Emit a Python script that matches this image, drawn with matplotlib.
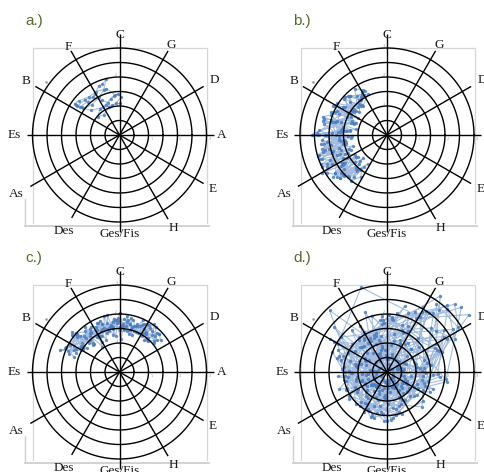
import numpy as np
import matplotlib
matplotlib.use("Agg")
import matplotlib.pyplot as plt

# circle of fifths labels, clockwise from the top
keys = ['C', 'G', 'D', 'A', 'E', 'H', 'Ges/Fis', 'Des', 'As', 'Es', 'B', 'F']
key_angles = [0, 30, 60, 90, 120, 150, 180, 210, 240, 270, 300, 330]
rings = [0.5, 1.0, 1.5, 2.0, 2.5, 3.0]
tick_values = [1, 2, 3]
panel_names = ['a.)', 'b.)', 'c.)', 'd.)']

# a.) sparse path between F and C (x, y in ring units)
a_x = [-1.50, -1.35, -1.10, -0.85, -0.72, -0.60, -0.46, -0.55, -0.70, -0.95,
       -1.25, -1.45, -1.20, -0.90, -0.62, -0.40, -0.20, -0.05, 0.05, -0.12,
       -0.35, -0.55, -0.75, -0.68, -0.48, -0.30, -0.15, -0.45, -0.80, -1.05,
       -1.40, -1.55, -1.30, -0.98, -0.58, -0.25, 0.02]
a_y = [1.05, 0.98, 1.15, 1.40, 1.68, 1.75, 1.92, 1.55, 1.30, 1.05,
       0.92, 1.00, 1.22, 1.30, 1.20, 1.12, 1.35, 1.42, 1.30, 1.10,
       0.95, 0.70, 0.62, 0.88, 1.05, 1.25, 1.38, 1.60, 1.50, 1.32,
       1.18, 1.08, 0.95, 0.85, 0.95, 1.02, 1.10]

# b.) crescent between Des and F (angle clockwise from C in deg, radius)
b_theta = [330, 322, 315, 305, 298, 290, 283, 276, 270, 268, 262, 255, 250, 245, 240, 236, 230, 224, 218, 214,
           220, 228, 235, 242, 248, 253, 258, 263, 268, 272, 278, 284, 292, 300, 308, 316, 324, 332, 328, 318,
           310, 300, 294, 286, 280, 274, 270, 266, 260, 254, 248, 242, 238, 232, 226, 222, 216, 212, 218, 226,
           234, 240, 246, 252, 258, 264, 270, 276, 282, 288, 296, 304, 312, 320, 326, 334, 325, 314, 302, 292,
           284, 276, 270, 262, 256, 250, 244, 238, 232, 228, 224, 230, 238, 246, 254, 262, 270, 278, 286, 294,
           300, 285, 270, 255, 240, 228, 218, 232, 246, 260, 274, 288, 302, 318, 330, 312, 296, 280, 264, 250,
           236, 224, 216, 226, 238, 252, 266, 280, 294, 308, 322, 335, 320, 304, 290, 276, 262, 248, 234, 222,
           230, 244, 258, 272, 286, 300, 316, 328, 310, 292, 274, 256, 242, 228, 220, 236, 252, 268, 284, 270]
b_r = [1.70, 1.55, 1.90, 1.40, 2.10, 1.25, 1.95, 1.60, 2.55, 1.35, 2.20, 1.70, 2.45, 1.50, 2.60, 1.90, 2.25, 1.40, 1.85, 1.20,
       1.60, 2.05, 1.30, 2.35, 1.75, 2.50, 1.45, 2.10, 1.20, 1.90, 1.55, 2.25, 1.30, 2.05, 1.45, 1.85, 1.50, 1.75, 1.60, 1.35,
       1.95, 1.15, 1.80, 2.30, 1.10, 1.70, 2.40, 1.25, 1.95, 2.45, 1.35, 2.15, 1.80, 2.35, 1.15, 1.95, 1.50, 1.70, 2.00, 1.30,
       2.20, 1.55, 2.50, 1.25, 2.30, 1.65, 2.10, 1.40, 2.25, 1.20, 1.90, 1.45, 1.70, 1.35, 1.60, 1.70, 1.95, 1.40, 2.05, 1.15,
       1.85, 1.30, 2.35, 1.60, 2.05, 1.40, 2.50, 1.85, 1.25, 2.20, 1.55, 2.05, 1.30, 1.60, 1.95, 1.45, 2.15, 1.30, 1.80, 1.50,
       1.55, 2.00, 1.75, 2.30, 1.60, 2.20, 1.50, 1.90, 2.15, 1.45, 2.35, 1.30, 1.80, 1.45, 1.60, 1.95, 1.40, 2.20, 1.50, 2.40,
       1.75, 1.95, 1.35, 2.05, 2.45, 1.65, 2.25, 1.55, 1.95, 1.35, 1.70, 1.55, 1.30, 1.75, 2.05, 1.45, 2.30, 1.85, 2.20, 1.60,
       1.45, 2.30, 1.55, 2.40, 1.65, 1.45, 1.85, 1.65, 1.25, 2.10, 1.60, 2.20, 1.70, 2.00, 1.55, 1.85, 2.00, 1.65, 1.85, 2.60]

# c.) band above the centre from B to D
c_theta = [-72, -65, -58, -50, -44, -38, -30, -24, -18, -12, -6, 0, 6, 12, 18, 24, 30, 36, 42, 48,
           44, 38, 32, 26, 20, 14, 8, 2, -4, -10, -16, -22, -28, -34, -40, -46, -52, -60, -68, -62,
           -54, -48, -42, -36, -30, -25, -20, -14, -8, -3, 3, 9, 15, 21, 27, 33, 39, 45, 50, 40,
           30, 22, 15, 8, 0, -7, -14, -21, -28, -35, -42, -49, -56, -64, -70, -57, -45, -33, -20, -10,
           -2, 5, 12, 19, 26, 34, 42, 52, 46, 35, 24, 14, 4, -6, -16, -26, -37, -48, -58, -66,
           -60, -40, -20, 0, 20, 40, 30, 10, -10, -30, -50, -66, -45, -25, -5, 15, 35, 50, 25, 5,
           -15, -35, -55, -70, -48, -28, -8, 12, 32, 46, 38, 18, -2, -22, -42, -62, -52, -32, -12, 8]
c_r = [1.65, 2.05, 1.50, 2.15, 1.30, 1.95, 1.20, 1.85, 1.40, 2.00, 1.25, 2.05, 1.45, 1.90, 1.35, 1.95, 1.55, 2.05, 1.70, 1.60,
       1.85, 1.40, 1.90, 1.50, 1.75, 1.35, 1.95, 1.15, 1.80, 1.30, 2.00, 1.20, 1.75, 1.05, 1.85, 1.45, 2.10, 1.55, 1.90, 1.70,
       1.40, 1.95, 1.30, 1.65, 1.50, 1.85, 1.60, 1.75, 1.55, 1.70, 1.60, 1.80, 1.55, 1.70, 1.85, 1.60, 2.00, 1.75, 1.55, 1.45,
       1.70, 1.50, 1.85, 1.60, 1.45, 1.75, 1.55, 1.90, 1.40, 1.80, 1.35, 2.00, 1.60, 1.75, 2.20, 1.50, 1.65, 1.45, 1.75, 1.60,
       1.85, 1.55, 1.70, 1.50, 1.80, 1.65, 1.45, 1.80, 1.90, 1.60, 1.75, 1.50, 1.65, 1.85, 1.55, 1.40, 1.70, 1.85, 1.55, 1.65,
       1.80, 1.60, 1.75, 1.55, 1.70, 1.55, 1.90, 1.45, 1.65, 1.40, 1.90, 2.05, 1.75, 1.55, 1.80, 1.60, 1.85, 1.70, 1.50, 1.85,
       1.45, 1.70, 1.55, 1.85, 2.00, 1.65, 1.50, 1.70, 1.45, 1.90, 1.80, 1.65, 1.75, 1.60, 1.50, 1.95, 1.65, 1.85, 1.60, 1.75]

# d.) dense cloud around the centre with excursions towards G/D
d_theta = [12, 58, 103, 171, 224, 268, 317, 349, 27, 84, 139, 196, 251, 296, 338, 44, 92, 158, 207, 262,
           305, 356, 38, 77, 126, 183, 236, 281, 322, 8, 63, 118, 164, 213, 259, 300, 343, 31, 72, 133,
           188, 242, 287, 330, 18, 49, 97, 146, 201, 248, 292, 335, 22, 66, 112, 175, 219, 274, 313, 352,
           40, 88, 129, 180, 228, 265, 303, 346, 15, 54, 107, 152, 199, 245, 290, 326, 5, 47, 81, 124,
           168, 215, 257, 298, 341, 33, 70, 115, 161, 210, 254, 288, 333, 2, 52, 99, 143, 192, 238, 278,
           319, 357, 36, 61, 110, 155, 205, 250, 284, 327, 11, 57, 94, 137, 186, 232, 271, 309, 348, 25,
           68, 121, 166, 218, 261, 294, 339, 20, 45, 90, 135, 178, 226, 270, 315, 354, 29, 75, 117, 160,
           204, 247, 283, 324, 7, 42, 86, 131, 173, 221, 266, 307, 345, 35, 60, 102, 149, 194, 240, 276,
           77, 151, 233, 302, 19, 96, 188, 261, 340, 55, 128, 209, 287, 4, 83, 167, 244, 318, 37, 114,
           198, 276, 351, 63, 142, 221, 297, 14, 91, 175, 252, 329, 46, 123, 203, 280, 358, 71, 156, 236,
           311, 28, 107, 184, 263, 343, 59, 137, 216, 292, 9, 88, 170, 248, 323, 41, 119, 195, 273, 347,
           66, 145, 226, 305, 22, 100, 181, 257, 336, 51, 132, 212, 289, 1, 80, 162, 240, 314, 33, 111,
           192, 269, 345, 74, 153, 230, 308, 25, 104, 186, 259, 332, 48, 126, 206, 284, 355, 69, 148, 227,
           30, 45, 58, 36, 50, 64, 42, 28, 55, 70,
           300, 150, 320, 200, 340, 100, 355, 230, 10, 170, 25, 250, 285, 80, 265, 190, 310, 120, 330, 215,
           345, 60, 5, 240, 20, 135, 35, 275, 70, 185, 95, 300, 110, 220, 250, 15, 235, 160, 200, 290]
d_r = [1.10, 2.30, 1.45, 0.70, 1.55, 1.20, 2.90, 0.85, 1.60, 1.30, 0.55, 1.65, 0.90, 1.50, 1.05, 3.00, 1.75, 0.60, 1.45, 1.35,
       0.75, 1.80, 2.60, 1.40, 0.65, 1.70, 1.25, 1.10, 1.55, 0.50, 1.85, 1.20, 1.45, 0.80, 1.50, 1.95, 3.05, 2.20, 1.35, 0.95,
       1.40, 0.85, 1.35, 1.60, 1.70, 3.40, 2.05, 0.75, 1.25, 1.50, 1.05, 0.70, 1.45, 1.90, 1.10, 1.65, 0.60, 1.55, 1.25, 1.80,
       2.80, 1.20, 1.60, 1.70, 0.95, 1.45, 1.30, 1.05, 0.65, 2.45, 1.35, 0.80, 1.55, 1.20, 1.60, 1.40, 1.85, 1.15, 1.55, 0.70,
       1.50, 1.30, 1.45, 0.85, 1.35, 2.50, 1.00, 1.65, 0.55, 1.60, 1.10, 1.75, 1.30, 1.95, 1.40, 2.10, 0.90, 1.20, 1.55, 0.60,
       1.45, 1.70, 1.25, 2.35, 1.40, 0.95, 1.50, 0.70, 1.65, 1.20, 1.35, 2.70, 1.60, 1.15, 1.45, 0.65, 1.30, 1.55, 0.90, 1.75,
       1.95, 0.80, 1.30, 1.50, 0.75, 1.85, 1.25, 1.55, 2.15, 1.30, 1.70, 1.10, 0.60, 1.45, 1.20, 1.65, 2.55, 1.05, 1.40, 1.25,
       0.95, 1.55, 1.15, 1.35, 1.80, 1.60, 0.50, 1.25, 1.60, 1.35, 0.85, 2.00, 1.40, 3.20, 1.95, 1.25, 0.75, 1.45, 1.15, 1.50,
       0.40, 1.10, 0.25, 0.90, 0.55, 1.25, 0.35, 1.05, 0.70, 0.20, 1.30, 0.60, 0.95, 0.45, 1.15, 0.30, 0.85, 1.20, 0.50, 0.75,
       1.00, 0.15, 1.25, 0.65, 0.40, 1.10, 0.80, 0.30, 1.35, 0.55, 0.95, 0.45, 1.15, 0.25, 0.70, 1.05, 0.60, 0.35, 1.20, 0.85,
       0.50, 1.00, 0.20, 0.90, 0.65, 1.30, 0.40, 0.75, 1.10, 0.30, 0.95, 0.55, 1.25, 0.45, 0.80, 0.15, 1.05, 0.65, 0.35, 1.15,
       0.70, 0.25, 1.00, 0.50, 1.20, 0.85, 0.40, 1.10, 0.60, 0.90, 0.30, 1.30, 0.75, 0.45, 1.05, 0.55, 0.20, 0.95, 1.15, 0.65,
       0.35, 1.25, 0.80, 0.50, 1.00, 0.70, 0.25, 1.10, 0.60, 0.85, 0.40, 1.20, 0.55, 0.95, 0.30, 1.05, 0.75, 0.45, 1.15, 0.65,
       2.40, 3.30, 2.90, 2.90, 2.20, 2.60, 3.10, 2.10, 3.45, 2.00,
       2.10, 0.60, 1.90, 0.80, 2.20, 0.50, 1.95, 0.70, 2.05, 0.40, 2.30, 0.90, 1.80, 0.60, 1.70, 0.55, 2.40, 0.75, 1.85, 0.65,
       2.00, 1.00, 1.90, 0.50, 2.15, 0.70, 2.50, 0.45, 2.00, 0.80, 1.85, 2.25, 1.70, 0.60, 1.75, 2.35, 1.60, 1.55, 1.65, 2.00]


def to_xy(theta, r):
    t = np.radians(theta)
    r = np.asarray(r)
    return r * np.sin(t), r * np.cos(t)


panels = [
    (np.array(a_x), np.array(a_y)),
    to_xy(b_theta, b_r),
    to_xy(c_theta, c_r),
    to_xy(d_theta, d_r),
]

# layout in pixels
W, H = 484, 472
S = 29.0          # pixels per ring unit
R = 4.3           # half extent of each axes in ring units
centers = [(119.5, 135), (387, 135), (119.5, 372), (387, 372)]
spoke_len = [3.5, 3.35, 3.35, 3.25, 3.35, 3.35, 3.35, 3.3, 3.55, 3.2, 3.35, 3.35]
label_r = [3.45, 3.57, 3.78, 3.52, 3.72, 3.7, 3.4, 3.82, 4.1, 3.62, 3.72, 3.5]

blue = '#4a7dbf'
serif = ['Liberation Serif', 'DejaVu Serif']

fig = plt.figure(figsize=(W / 100, H / 100), dpi=100)

for (cx, cy), (px, py), name in zip(centers, panels, panel_names):
    ax = fig.add_axes([(cx - R * S) / W, (H - cy - R * S) / H, 2 * R * S / W, 2 * R * S / H])
    ax.set_xlim(-R, R)
    ax.set_ylim(-R, R)
    ax.axis('off')

    # light grey frame
    ax.plot([-2.97, -2.97, 3.03, 3.03], [-3.05, 3.0, 3.0, -3.05], color='#d6d6d6', lw=0.9, zorder=0)
    ax.plot([-3.25, 3.1], [-3.15, -3.15], color='#cfcfcf', lw=1.3, zorder=0)
    ax.plot([-3.25, -3.25], [-3.15, -2.2], color='#cfcfcf', lw=1.0, zorder=0)

    # data
    ax.plot(px, py, '-', color=blue, lw=0.8, alpha=0.5, zorder=1, clip_on=False)
    ax.plot(px, py, 'o', color=blue, ms=2.4, mew=0, alpha=0.85, zorder=1, clip_on=False)

    # rings and spokes
    circ = np.linspace(0, 2 * np.pi, 300)
    for rr in rings:
        ax.plot(rr * np.cos(circ), rr * np.sin(circ), color='black', lw=1.0, zorder=2)
    for ang, ln in zip(key_angles, spoke_len):
        sx, sy = to_xy([ang], [ln])
        ax.plot([0, sx[0]], [0, sy[0]], color='black', lw=1.0, zorder=2, solid_capstyle='butt')

    for key, ang, lr in zip(keys, key_angles, label_r):
        tx, ty = to_xy([ang], [lr])
        ax.text(tx[0], ty[0], key, ha='center', va='center', fontsize=9.5,
                family=serif, color='#1a1a1a', zorder=3)

    # tiny axis numbers
    for v in tick_values:
        ax.text(-0.07, v + 0.08, str(v), fontsize=2.5, color='#999999', ha='right', va='center')
        ax.text(v + 0.06, -0.08, str(v), fontsize=2.5, color='#999999', ha='left', va='top')
    ax.plot([-2.54], [1.82], 's', ms=0.8, color='#999999')

    fig.text((cx - 94) / W, 1 - (cy - 110) / H, name, fontsize=11, color='#556b2f',
             family=['Liberation Sans', 'DejaVu Sans'], va='baseline', ha='left')

fig.savefig('out.png', dpi=100)
